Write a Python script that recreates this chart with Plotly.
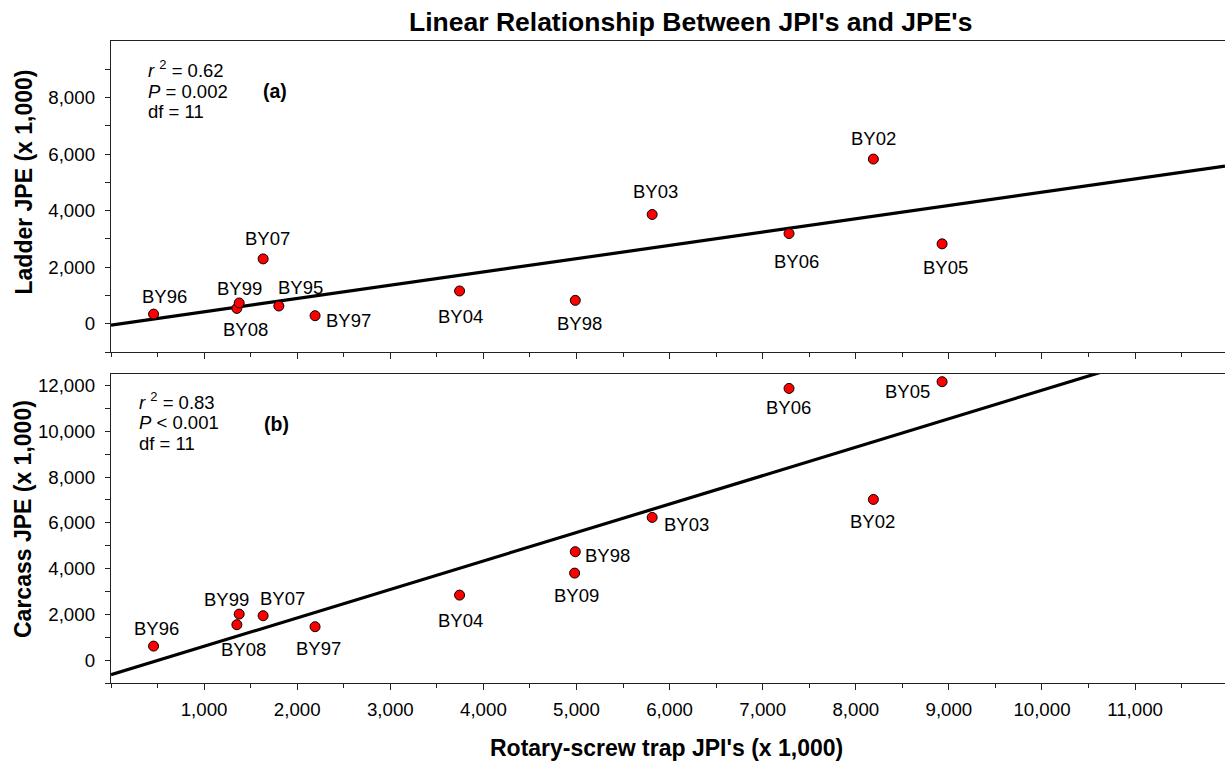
import plotly.graph_objects as go

# ---------------- data ----------------
years_a = ["BY96", "BY08", "BY99", "BY07", "BY95", "BY97", "BY04", "BY98", "BY03", "BY06", "BY02", "BY05"]
rst_jpi_a = [457, 1352, 1377, 1634, 1803, 2192, 3744, 4987, 5813, 7283, 8189, 8927]
ladder_jpe = [340, 542, 734, 2293, 627, 284, 1159, 826, 3864, 3190, 5824, 2825]

years_b = ["BY96", "BY08", "BY99", "BY07", "BY97", "BY04", "BY98", "BY09", "BY03", "BY06", "BY02", "BY05"]
rst_jpi_b = [457, 1352, 1377, 1634, 2192, 3744, 4987, 4980, 5813, 7283, 8189, 8927]
carcass_jpe = [612, 1546, 2010, 1940, 1459, 2840, 4736, 3801, 6234, 11870, 7020, 12163]

fit_a = {"slope": 0.47, "intercept": -50}
fit_b = {"slope": 1.243, "intercept": -640}

stats_a = ["<i>r</i> <sup>2</sup> = 0.62", "<i>P</i> = 0.002", "df = 11"]
stats_b = ["<i>r</i> <sup>2</sup> = 0.83", "<i>P</i> < 0.001", "df = 11"]

x_ticks = [1000, 2000, 3000, 4000, 5000, 6000, 7000, 8000, 9000, 10000, 11000]
x_minor = [0, 500, 1500, 2500, 3500, 4500, 5500, 6500, 7500, 8500, 9500, 10500, 11500]
ya_ticks = [0, 2000, 4000, 6000, 8000]
ya_minor = [-1000, 1000, 3000, 5000, 7000, 9000]
yb_ticks = [0, 2000, 4000, 6000, 8000, 10000, 12000]
yb_minor = [-1000, 1000, 3000, 5000, 7000, 9000, 11000]

# ---------------- label placement (pixel offsets, style only) ----------------
offs_a = {"BY96": (11, 18), "BY08": (9, -21), "BY99": (0, 14), "BY07": (4, 20), "BY95": (22, 19),
          "BY97": (33, -5), "BY04": (1, -26), "BY98": (4, -23), "BY03": (3, 23), "BY06": (7, -28),
          "BY02": (0, 21), "BY05": (3, -24)}
offs_b = {"BY96": (3, 18), "BY08": (7, -25), "BY99": (-13, 15), "BY07": (19, 17), "BY97": (3, -22),
          "BY04": (1, -25), "BY98": (32, -4), "BY09": (2, -22), "BY03": (34, -7), "BY06": (-1, -19),
          "BY02": (-1, -22), "BY05": (-35, -10)}

FONT = "Liberation Sans, Arial, sans-serif"
W, H = 1225, 766
ML, MR, MT, MB = 111, 0, 41, 83
PH = H - MT - MB
PW = W - ML - MR
X_RANGE = [0, 11966]

def py(px):  # pixel y -> paper
    return (H - MB - px) / PH

def pxx(px):  # pixel x -> paper
    return (px - ML) / PW

fig = go.Figure()

marker = dict(color="#ff0000", size=10, line=dict(color="black", width=1))

# regression lines
for fit, xa, ya in [(fit_a, "x", "y"), (fit_b, "x2", "y2")]:
    fig.add_trace(go.Scatter(
        x=X_RANGE, y=[fit["intercept"] + fit["slope"] * v for v in X_RANGE],
        mode="lines", line=dict(color="black", width=3.2), xaxis=xa, yaxis=ya,
        showlegend=False, hoverinfo="skip"))

fig.add_trace(go.Scatter(x=rst_jpi_a, y=ladder_jpe, mode="markers", marker=marker,
                         text=years_a, xaxis="x", yaxis="y", showlegend=False))
fig.add_trace(go.Scatter(x=rst_jpi_b, y=carcass_jpe, mode="markers", marker=marker,
                         text=years_b, xaxis="x2", yaxis="y2", showlegend=False))

ann = []
for yrs, xs, ys, offs, xr, yr in [(years_a, rst_jpi_a, ladder_jpe, offs_a, "x", "y"),
                                  (years_b, rst_jpi_b, carcass_jpe, offs_b, "x2", "y2")]:
    for lab, xv, yv in zip(yrs, xs, ys):
        dx, dy = offs[lab]
        ann.append(dict(x=xv, y=yv, xref=xr, yref=yr, text=lab, showarrow=False,
                        xanchor="center", yanchor="middle",
                        xshift=dx, yshift=dy, font=dict(size=18.5, color="black", family=FONT)))

# stats text
for lines, x0, ys in [(stats_a, 145.5, [68.5, 91, 111.5]), (stats_b, 136.5, [400.5, 422.5, 443.5])]:
    for t, yy in zip(lines, ys):
        ann.append(dict(x=pxx(x0), y=py(yy), xref="paper", yref="paper", text=t, showarrow=False,
                        xanchor="left", yanchor="middle", font=dict(size=18.5, color="black", family=FONT)))

def centered(xp, yp, text, size, angle=0):
    return dict(x=pxx(xp), y=py(yp), xref="paper", yref="paper", text=text, showarrow=False,
                xanchor="center", yanchor="middle", textangle=angle,
                font=dict(size=size, color="black", family=FONT))

ann.append(centered(275, 91.5, "<b>(a)</b>", 19.5))
ann.append(centered(276, 424, "<b>(b)</b>", 19.5))
ann.append(centered(690, 22, "<b>Linear Relationship Between JPI's and JPE's</b>", 26.5))
ann.append(centered(666, 748, "<b>Rotary-screw trap JPI's (x 1,000)</b>", 23))
ann.append(centered(23, 182.5, "<b>Ladder JPE (x 1,000)</b>", 23, -90))
ann.append(centered(23, 519, "<b>Carcass JPE (x 1,000)</b>", 23, -90))

axis_common = dict(showgrid=False, zeroline=False, showline=True, linecolor="#222", linewidth=1.4,
                   ticks="outside", tickcolor="#222", tickwidth=1.3,
                   tickfont=dict(size=18.7, color="black", family=FONT))

xaxis_common = dict(axis_common, range=X_RANGE, tickmode="array", tickvals=x_ticks,
                    ticktext=[f"{v:,}" for v in x_ticks], ticklen=6, mirror=True,
                    minor=dict(tickmode="array", tickvals=x_minor, ticks="outside", ticklen=4,
                               tickcolor="#222", tickwidth=1.3, showgrid=False))

fig.update_layout(
    width=W, height=H,
    margin=dict(l=ML, r=MR, t=MT, b=MB),
    paper_bgcolor="white", plot_bgcolor="white",
    font=dict(family=FONT, color="black"),
    xaxis=dict(xaxis_common, domain=[0, 1], anchor="y", showticklabels=False),
    xaxis2=dict(xaxis_common, domain=[0, 1], anchor="y2", showticklabels=True, ticklabelstandoff=3),
    yaxis=dict(axis_common, domain=[py(352), 1], anchor="x", range=[-1000, 10000],
               tickmode="array", tickvals=ya_ticks, ticktext=[f"{v:,}" for v in ya_ticks],
               ticklen=5, ticklabelstandoff=6,
               minor=dict(tickmode="array", tickvals=ya_minor,
                          ticks="outside", ticklen=5, tickcolor="#222", tickwidth=1.3, showgrid=False)),
    yaxis2=dict(axis_common, domain=[0, py(374)], anchor="x2", range=[-1000, 12500],
                tickmode="array", tickvals=yb_ticks, ticktext=[f"{v:,}" for v in yb_ticks],
                ticklen=5, ticklabelstandoff=6,
                minor=dict(tickmode="array", tickvals=yb_minor,
                           ticks="outside", ticklen=5, tickcolor="#222", tickwidth=1.3, showgrid=False)),
    annotations=ann,
)

fig.write_html("out.html")
